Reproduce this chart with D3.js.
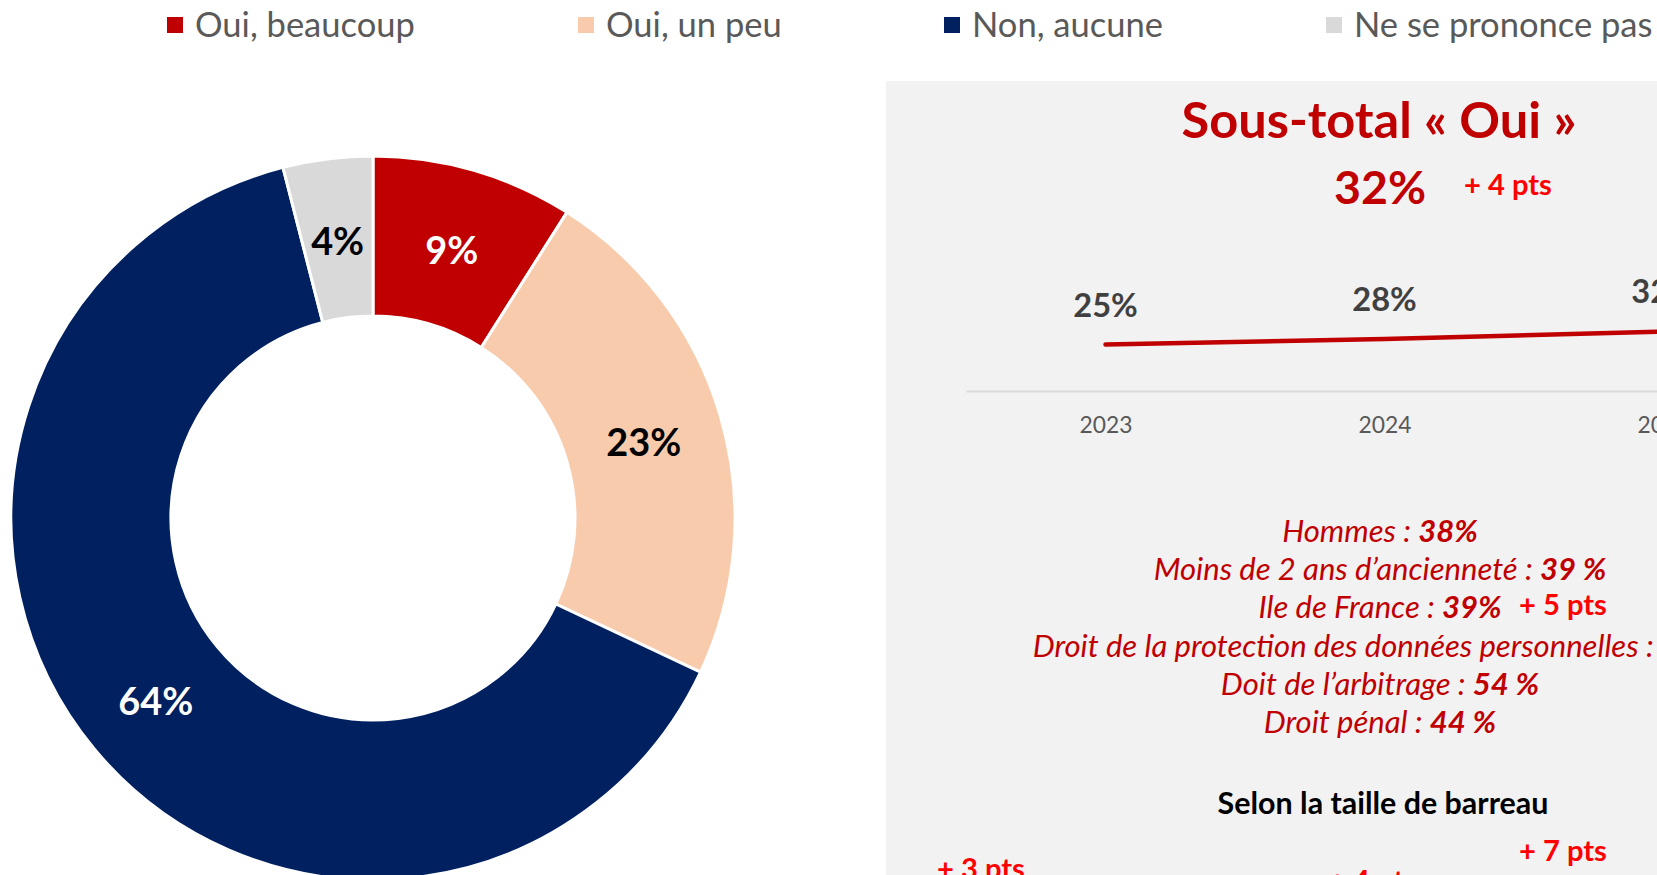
<!DOCTYPE html>
<html><head><meta charset="utf-8">
<script src="https://cdn.jsdelivr.net/npm/d3@7"></script>
<style>
body{margin:0;background:#fff;overflow:hidden;}
svg{display:block;font-family:Lato,"Open Sans",sans-serif;}
text{white-space:pre;}
</style>
</head><body>
<svg id="chart" width="1657" height="875"></svg>
<script>
// ---------- DATA ----------
const categories = ["Oui, beaucoup", "Oui, un peu", "Non, aucune", "Ne se prononce pas"];
const shares = [9, 23, 64, 4];
const sliceColors = ["#C00000", "#F8CBAD", "#002060", "#D9D9D9"];
const sliceLabelColors = ["#FFFFFF", "#000000", "#FFFFFF", "#000000"];

const years = ["2023", "2024", "2025"];
const yesTotals = [25, 28, 32];

const subtotalTitle = "Sous-total « Oui »";
const subtotalValue = "32%";
const subtotalDelta = "+ 4 pts";

const subgroupLabels = ["Hommes : ", "Moins de 2 ans d’ancienneté : ", "Ile de France : ",
  "Droit de la protection des données personnelles : ", "Doit de l’arbitrage : ", "Droit pénal : "];
const subgroupValues = ["38%", "39 %", "39%", "45 %", "54 %", "44 %"];

const sizeTitle = "Selon la taille de barreau";
const deltaNotes = [
  {text: "+ 5 pts", slot: "ile"},
  {text: "+ 7 pts", slot: "a"},
  {text: "+ 3 pts", slot: "b"},
  {text: "+ 4 pts", slot: "c"}
];

// ---------- LAYOUT ----------
const W = 1657, H = 875;
const svg = d3.select("#chart");
const RED = "#C00000", BRIGHT = "#FF0000";

function fit(sel, target) {
  const w = sel.node().getComputedTextLength();
  const fs = parseFloat(sel.attr("font-size"));
  const n = fs * target / w;
  sel.attr("font-size", n);
  return n;
}

// Legend
const legendX = [167, 578, 944, 1326];
const leg = svg.append("g");
let legFS = null;
categories.forEach((c, i) => {
  const g = leg.append("g").attr("transform", `translate(${legendX[i]},0)`);
  g.append("rect").attr("x", 0).attr("y", 17).attr("width", 16).attr("height", 16).attr("fill", sliceColors[i]);
  const t = g.append("text").attr("x", 28).attr("y", 37).attr("font-size", 30).attr("fill", "#595959").text(c);
  if (i === 0) legFS = fit(t, 220); else t.attr("font-size", legFS);
});

// Donut
const cx = 373, cy = 518, R = 362, r = 202;
const pie = d3.pie().sort(null).value(d => d);
const arc = d3.arc().innerRadius(r).outerRadius(R);
const arcs = pie(shares);
const dg = svg.append("g").attr("transform", `translate(${cx},${cy})`);
dg.selectAll("path").data(arcs).join("path")
  .attr("d", arc).attr("fill", (d, i) => sliceColors[i])
  .attr("stroke", "#fff").attr("stroke-width", 3);
const dl = dg.selectAll("text").data(arcs).join("text")
  .attr("transform", d => `translate(${arc.centroid(d)})`)
  .attr("text-anchor", "middle").attr("dy", "0.45em")
  .attr("font-weight", 700).attr("font-size", 36)
  .attr("fill", (d, i) => sliceLabelColors[i])
  .text(d => d.data + "%");
const dfs = fit(dl.filter((d, i) => i === 1), 75);
dl.attr("font-size", dfs);

// Right panel
const px = 886, py = 81;
svg.append("rect").attr("x", px).attr("y", py).attr("width", W - px).attr("height", H - py).attr("fill", "#F2F2F2");

const tt = svg.append("text").attr("x", 1379).attr("y", 138).attr("text-anchor", "middle")
  .attr("font-weight", 700).attr("font-size", 50).attr("fill", RED).text(subtotalTitle);
fit(tt, 395);
const tv = svg.append("text").attr("x", 1380).attr("y", 204).attr("text-anchor", "middle")
  .attr("font-weight", 700).attr("font-size", 50).attr("fill", RED).text(subtotalValue);
fit(tv, 92);
const td = svg.append("text").attr("x", 1464).attr("y", 195).attr("font-weight", 700)
  .attr("font-size", 28).attr("fill", BRIGHT).text(subtotalDelta);
const deltaFS = fit(td, 88);

// Line chart
const x = d3.scalePoint().domain(years).range([966, 1803]).padding(0.5);
const y = d3.scaleLinear().domain([0, 100]).range([391, 205]);
const axis = svg.append("g").attr("transform", "translate(0,391)")
  .call(d3.axisBottom(x).tickSize(0).tickSizeOuter(0).tickPadding(26));
axis.select(".domain").attr("stroke", "#D9D9D9").attr("stroke-width", 2);
const ticks = axis.selectAll("text").attr("fill", "#595959").attr("font-family", "Lato, 'Open Sans', sans-serif").attr("font-size", 23);
const tfs = fit(ticks.filter((d, i) => i === 0), 53);
ticks.attr("font-size", tfs);

const line = d3.line().x((d, i) => x(years[i])).y(d => y(d));
svg.append("path").datum(yesTotals).attr("d", line).attr("fill", "none")
  .attr("stroke", RED).attr("stroke-width", 4.5).attr("stroke-linecap", "round");
const vl = svg.selectAll(".vl").data(yesTotals).join("text").attr("class", "vl")
  .attr("x", (d, i) => x(years[i])).attr("y", d => y(d) - 28)
  .attr("text-anchor", "middle").attr("font-weight", 700).attr("font-size", 33)
  .attr("fill", "#404040").text(d => d + "%");
const vfs = fit(vl.filter((d, i) => i === 0), 64.5);
vl.attr("font-size", vfs);

// Sub-group lines
const blockX = 1380, blockY0 = 542, blockStep = 38.2;
const lines = svg.selectAll(".sg").data(subgroupLabels).join("text").attr("class", "sg")
  .attr("x", blockX).attr("y", (d, i) => blockY0 + i * blockStep)
  .attr("text-anchor", "middle").attr("font-size", 28).attr("fill", RED).attr("font-style", "italic");
lines.append("tspan").text(d => d);
lines.append("tspan").attr("font-weight", 700).text((d, i) => subgroupValues[i]);
const bfs = fit(lines.filter((d, i) => i === 1), 453);
lines.attr("font-size", bfs);

const st = svg.append("text").attr("x", 1383).attr("y", 814).attr("text-anchor", "middle")
  .attr("font-weight", 700).attr("font-size", 28).attr("fill", "#000").text(sizeTitle);
fit(st, 331);

const slots = {ile: [1519, 615], a: [1519, 861], b: [937, 879], c: [1329, 891]};
deltaNotes.forEach(n => {
  svg.append("text").attr("x", slots[n.slot][0]).attr("y", slots[n.slot][1])
    .attr("font-weight", 700).attr("font-size", deltaFS).attr("fill", BRIGHT).text(n.text);
});
</script>
</body></html>
